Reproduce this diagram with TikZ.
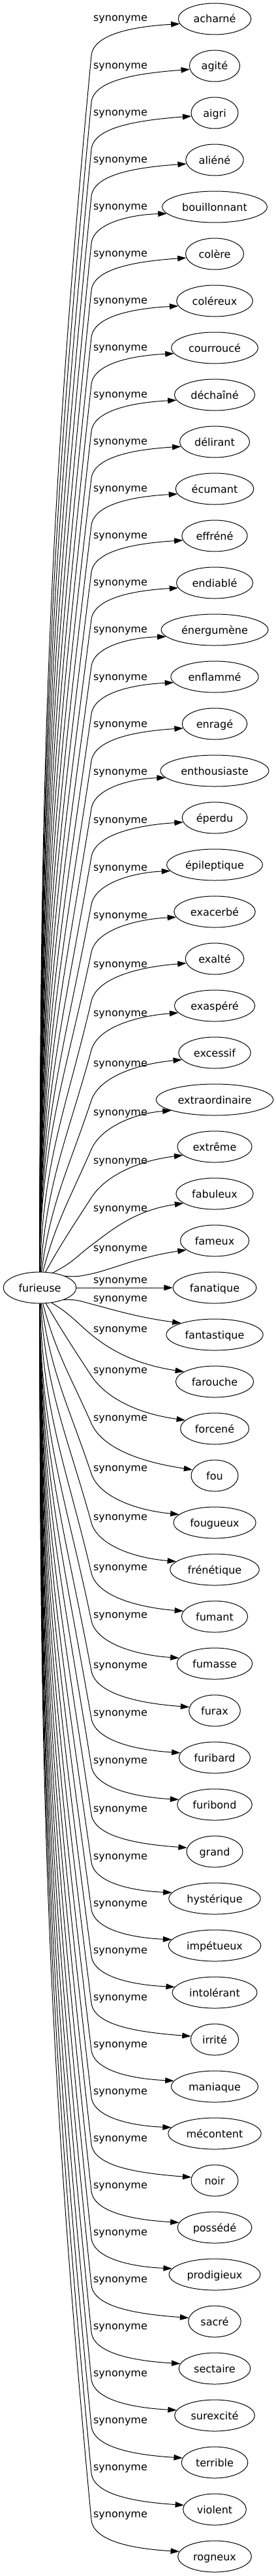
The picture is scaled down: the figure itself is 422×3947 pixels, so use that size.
\documentclass[tikz,border=0pt]{standalone}
\usepackage{fontspec}
\setmainfont{DejaVu Sans}
\usetikzlibrary{shapes.geometric,arrows.meta}

\tikzset{
  word/.style={ellipse,draw,line width=0.75pt,inner xsep=5.25pt,inner ysep=1pt,
               minimum width=54pt,minimum height=36pt,text height=9pt,text depth=0pt,
               font=\fontsize{12pt}{14pt}\selectfont},
  rel/.style={inner sep=0pt,text height=6pt,text depth=0pt,
              font=\fontsize{12pt}{14pt}\selectfont},
  syn/.style={->,line width=0.75pt}
}

\begin{document}
\begin{tikzpicture}[x=0.75pt,y=0.75pt,>={Triangle[length=10pt,width=6.5pt]}]
  \useasboundingbox (0,0) rectangle (422,-3947);

  \node[word] (furieuse) at (61,-1973) {furieuse};

  \foreach \nm/\txt/\off [count=\i from 0] in {
      acharne/acharné/0, agite/agité/0, aigri/aigri/0, aliene/aliéné/0,
      bouillonnant/bouillonnant/0, colere/colère/0, colereux/coléreux/0,
      courrouce/courroucé/0, dechaine/déchaîné/0, delirant/délirant/0,
      ecumant/écumant/0, effrene/effréné/0, endiable/endiablé/0,
      energumene/énergumène/0, enflamme/enflammé/1, enrage/enragé/1,
      enthousiaste/enthousiaste/2, eperdu/éperdu/4, epileptique/épileptique/5,
      exacerbe/exacerbé/6, exalte/exalté/9, exaspere/exaspéré/12,
      excessif/excessif/17, extraordinaire/extraordinaire/20, extreme/extrême/22,
      fabuleux/fabuleux/23, fameux/fameux/12, fanatique/fanatique/-11,
      fantastique/fantastique/-55, farouche/farouche/-80, forcene/forcené/-89,
      fou/fou/-88, fougueux/fougueux/-83, frenetique/frénétique/-80,
      fumant/fumant/-75, fumasse/fumasse/-74, furax/furax/-69,
      furibard/furibard/-68, furibond/furibond/-67, grand/grand/-65,
      hysterique/hystérique/-64, impetueux/impétueux/-64, intolerant/intolérant/-64,
      irrite/irrité/-64, maniaque/maniaque/-64, mecontent/mécontent/-64,
      noir/noir/-64, possede/possédé/-64, prodigieux/prodigieux/-64,
      sacre/sacré/-64, sectaire/sectaire/-64, surexcite/surexcité/-64,
      terrible/terrible/-64, violent/violent/-64, rogneux/rogneux/-64}{
    \pgfmathsetmacro\yt{29+72*\i}
    \pgfmathsetmacro\ly{\yt+\off}
    \pgfmathsetmacro\sg{\yt<1973 ? 1 : (\yt>1973 ? -1 : 0)}
    \pgfmathsetmacro\ky{\sg>0 ? min(\ly+56,1973-0.295*(1973-\yt)) : max(\ly+8,1973+0.295*(\yt-1973))}
    \pgfmathsetmacro\ph{atan2(abs(1973-\ky),79)}
    \pgfmathtruncatemacro\ao{\sg*min(90,\ph+10)}
    \pgfmathsetmacro\ak{\sg*max(\ph-3,0)}
    \pgfmathtruncatemacro\ai{180+\sg*(8+12*max(0,1-abs(1973-\yt)/600))}
    \pgfmathsetmacro\sx{61+50*cos(\ao)}
    \pgfmathsetmacro\sy{1973-24*sin(\ao)}
    \pgfmathsetmacro\da{39.15*veclen((140-\sx)/100,(\ky-\sy)/100)}
    \pgfmathsetmacro\db{39.15*veclen(1.32,(\yt-\ky)/100)}
    \pgfmathsetmacro\cax{\sx+\da*cos(\ao)}
    \pgfmathsetmacro\cay{\sy-\da*sin(\ao)}
    \pgfmathsetmacro\cbx{140-\da*cos(\ak)}
    \pgfmathsetmacro\cby{\ky+\da*sin(\ak)}
    \pgfmathsetmacro\ccx{140+0.6*\db*cos(\ak)}
    \pgfmathsetmacro\ccy{\ky-0.6*\db*sin(\ak)}
    \pgfmathsetmacro\cdx{274+1.2*\db*cos(\ai)}
    \pgfmathsetmacro\cdy{\yt-(1.2*\db+15)*sin(\ai)}

    \node[word] (\nm) at (329,-\yt) {\txt};
    \node[rel] (syn\i) at (184.5,-\ly) {synonyme};
    \coordinate (k\i) at (140,-\ky);

    \draw[syn] (furieuse.\ao) .. controls (\cax,-\cay) and (\cbx,-\cby) .. (k\i)
      .. controls (\ccx,-\ccy) and (\cdx,-\cdy) .. (\nm.\ai);
  }
\end{tikzpicture}
\end{document}
